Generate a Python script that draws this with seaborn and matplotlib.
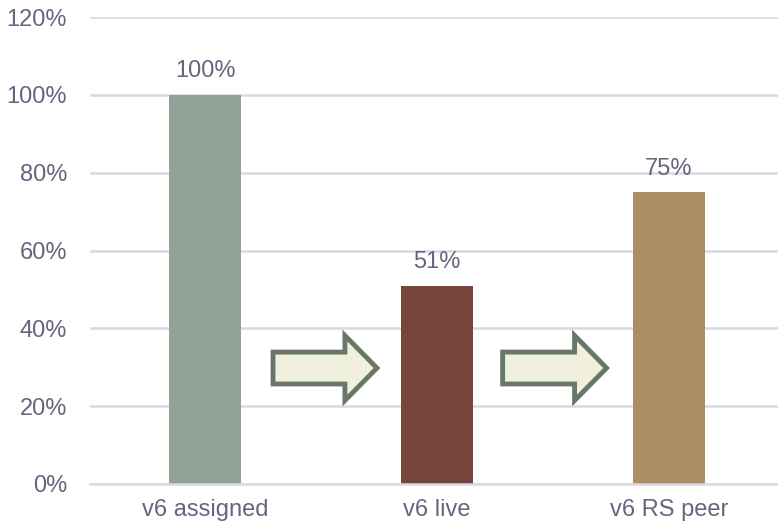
import pandas as pd
import seaborn as sns
import matplotlib.pyplot as plt
from matplotlib.patches import FancyArrow

categories = ["v6 assigned", "v6 live", "v6 RS peer"]
shares = [1.00, 0.51, 0.75]
bar_colors = ["#93A296", "#77453C", "#AC8E65"]
yticks = [0, 0.2, 0.4, 0.6, 0.8, 1.0, 1.2]

df = pd.DataFrame({"cat": categories, "share": shares})

sns.set_style("white")
plt.rcParams['font.family'] = ['Liberation Sans', 'DejaVu Sans']
txt = "#65657f"
grid = "#d9d9e3"

fig = plt.figure(figsize=(7.78, 5.26), dpi=100)
ax = fig.add_axes([90 / 778, 42 / 526, 688 / 778, 467 / 526])

sns.barplot(data=df, x="cat", y="share", hue="cat", palette=bar_colors,
            width=0.31, legend=False, ax=ax, saturation=1, linewidth=0)

for c in ax.containers:
    ax.bar_label(c, labels=[f"{v:.0%}" for v in c.datavalues], padding=9,
                 fontsize=17, color=txt)

ax.set_xlim(-0.496, 2.47)
ax.set_ylim(0, 1.2)
ax.set_yticks(yticks)
ax.set_yticklabels([f"{t:.0%}" for t in yticks])
ax.yaxis.grid(True, color=grid, linewidth=1.8)
ax.set_axisbelow(True)
for s in ["top", "right", "left"]:
    ax.spines[s].set_visible(False)
ax.spines["bottom"].set_color(grid)
ax.spines["bottom"].set_linewidth(1.8)
ax.tick_params(axis="both", length=0, labelsize=17, labelcolor=txt)
ax.tick_params(axis="y", pad=16.5)
ax.tick_params(axis="x", pad=11)
ax.set_xlabel("")
ax.set_ylabel("")

# arrows between bars
for xc in [0.517, 1.507]:
    ax.add_patch(FancyArrow(xc - 0.224, 0.298, 0.448, 0, width=0.082,
                            head_width=0.167, head_length=0.138,
                            length_includes_head=True, facecolor="#F1F0DC",
                            edgecolor="#69776B", linewidth=3.5, zorder=3))

fig.savefig("out.png", dpi=100)
